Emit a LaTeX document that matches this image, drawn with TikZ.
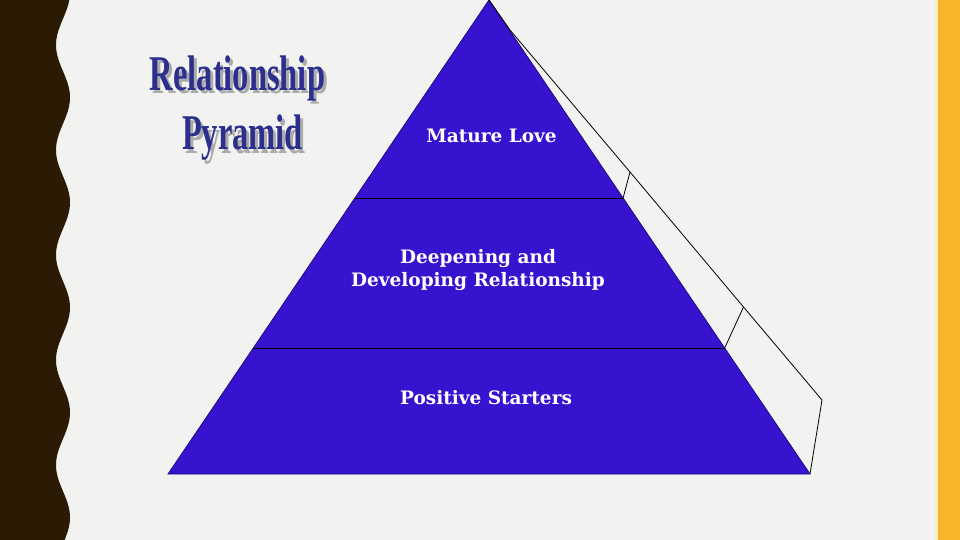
\documentclass[tikz,border=0pt]{standalone}
\usepackage{fontspec}
\setmainfont{DejaVu Serif}
\newfontfamily\titlefont{Liberation Serif}
\usetikzlibrary{calc}
\definecolor{bgcol}{HTML}{F2F2F0}
\definecolor{stripcol}{HTML}{2B1B04}
\definecolor{orangecol}{HTML}{F7B52B}
\definecolor{palecol}{HTML}{FBEFC4}
\definecolor{pyrcol}{HTML}{3813CF}
\definecolor{pyredge}{HTML}{1E0A80}
\definecolor{titlecol}{HTML}{2D2F8F}
\definecolor{shadowcol}{HTML}{ABABAB}
\newcommand{\shadowed}[1]{\makebox[0pt][l]{\hspace{3pt}\raisebox{-3pt}{\textcolor{shadowcol}{\scalebox{0.65}[1]{#1}}}}\scalebox{0.65}[1]{#1}}
\tikzset{
  titletext/.style={font=\titlefont\bfseries\fontsize{50}{50}\selectfont, text=titlecol, inner sep=0pt, anchor=base},
  tiertext/.style={font=\bfseries\fontsize{18.5}{23}\selectfont, text=white, inner sep=0pt, align=center},
  outline/.style={draw=black, line width=0.8pt},
}
\begin{document}
\begin{tikzpicture}[x=1pt,y=-1pt]
\useasboundingbox (0,0) rectangle (960,540);
\fill[bgcol] (0,0) rectangle (960,540);
% wavy left strip
\fill[stripcol] (0,0) -- plot[domain=0:540, samples=240] ({63 - 7*cos(3.428571*(\x-45))}, \x) -- (0,540) -- cycle;
% right strip
\fill[palecol] (935,0) rectangle (937.5,540);
\fill[orangecol] (937.5,0) rectangle (960,540);
% title
\node[titletext] (t1) at (237.5,91) {\shadowed{Relationship}};
\node[titletext] (t2) at (242.5,150) {\shadowed{Pyramid}};
% pyramid coordinates
\coordinate (apex) at (489,0);
\coordinate (bl) at (168,474);
\coordinate (br) at (810,474);
\coordinate (l1) at ($(apex)!198/474!(bl)$);
\coordinate (r1) at ($(apex)!198/474!(br)$);
\coordinate (l2) at ($(apex)!348/474!(bl)$);
\coordinate (r2) at ($(apex)!348/474!(br)$);
\coordinate (b0) at (510,30);
\coordinate (b1) at (630,172);
\coordinate (b2) at (743.5,307);
\coordinate (b3) at (822,400);
% pyramid
\fill[pyrcol, draw=pyredge, line width=0.8pt] (apex) -- (bl) -- (br) -- cycle;
\draw[outline] (l1) -- (r1);
\draw[outline] (l2) -- (r2);
% side face outline
\draw[outline] (apex) -- (b0) -- (b1) -- (b2) -- (b3) -- (br);
\draw[outline] (b1) -- (r1);
\draw[outline] (b2) -- (r2);
% labels
\node[tiertext, anchor=base] (n1) at (491.5,143) {Mature Love};
\node[tiertext, anchor=center] (n2) at (478,270) {Deepening and\\Developing Relationship};
\node[tiertext, anchor=base] (n3) at (486,404) {Positive Starters};
\end{tikzpicture}
\end{document}
